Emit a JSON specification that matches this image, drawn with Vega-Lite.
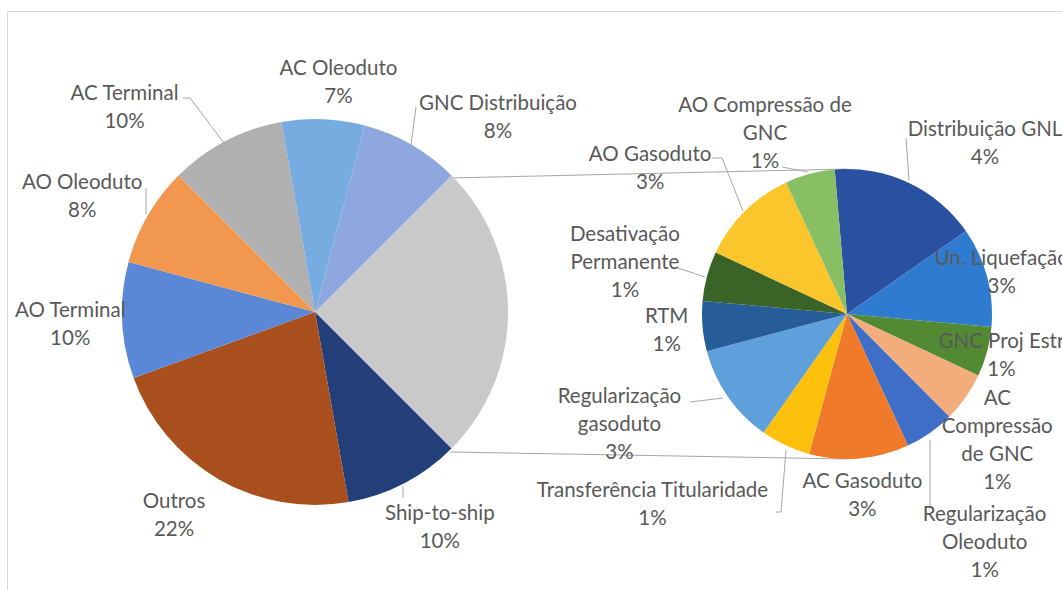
{
  "$schema": "https://vega.github.io/schema/vega-lite/v6.json",
  "width": 1062,
  "height": 590,
  "autosize": {"type": "none"},
  "padding": {"left": 7, "top": 11, "right": 0, "bottom": 0},
  "background": "white",
  "config": {
    "view": {"stroke": "#D9D9D9", "strokeWidth": 1},
    "text": {"font": "Lato", "fontSize": 20.5, "fill": "#595959", "lineHeight": 28, "lineBreak": "\n", "align": "center", "baseline": "middle"}
  },
  "resolve": {"scale": {"theta": "independent", "color": "independent"}},
  "layer": [
    {
      "data": {"values": [{}]},
      "mark": {"type": "rule", "color": "#A6A6A6", "strokeWidth": 1},
      "encoding": {
        "x": {"datum": 450, "type": "quantitative", "scale": {"domain": [7, 1069], "nice": false, "zero": false}, "axis": null},
        "y": {"datum": 178, "type": "quantitative", "scale": {"domain": [11, 601], "nice": false, "zero": false, "reverse": true}, "axis": null},
        "x2": {"datum": 847}, "y2": {"datum": 169}
      }
    },
    {
      "data": {"values": [{}]},
      "mark": {"type": "rule", "color": "#A6A6A6", "strokeWidth": 1},
      "encoding": {
        "x": {"datum": 450, "type": "quantitative"},
        "y": {"datum": 452, "type": "quantitative"},
        "x2": {"datum": 847}, "y2": {"datum": 459}
      }
    },
    {
      "data": {"values": [
        {"cat": "Demais (2º gráfico)", "n": 18, "ord": 1, "label": ""},
        {"cat": "Ship-to-ship", "n": 7, "ord": 2, "label": "Ship-to-ship\n10%"},
        {"cat": "Outros", "n": 16, "ord": 3, "label": "Outros\n22%"},
        {"cat": "AO Terminal", "n": 7, "ord": 4, "label": "AO Terminal\n10%"},
        {"cat": "AO Oleoduto", "n": 6, "ord": 5, "label": "AO Oleoduto\n8%"},
        {"cat": "AC Terminal", "n": 7, "ord": 6, "label": "AC Terminal\n10%"},
        {"cat": "AC Oleoduto", "n": 5, "ord": 7, "label": "AC Oleoduto\n7%"},
        {"cat": "GNC Distribuição", "n": 6, "ord": 8, "label": "GNC Distribuição\n8%"}
      ]},
      "encoding": {
        "theta": {"field": "n", "type": "quantitative", "stack": true, "scale": {"range": [0.7854, 7.0686]}},
        "order": {"field": "ord", "type": "quantitative"},
        "x": {"datum": 315, "type": "quantitative"},
        "y": {"datum": 312, "type": "quantitative"}
      },
      "layer": [
        {
          "mark": {"type": "arc", "outerRadius": 193},
          "encoding": {
            "color": {"field": "cat", "type": "nominal", "legend": null,
              "scale": {
                "domain": ["Demais (2º gráfico)", "Ship-to-ship", "Outros", "AO Terminal", "AO Oleoduto", "AC Terminal", "AC Oleoduto", "GNC Distribuição"],
                "range": ["#C9C9C9", "#223F79", "#A94F1D", "#5A88D7", "#F1974F", "#B0B0B0", "#76ACE0", "#8EA7DE"]
              }}
          }
        },
        {
          "mark": {"type": "text", "radius": 240, "dx": 13, "dy": -3},
          "encoding": {"text": {"condition": {"test": "datum.cat == 'AC Oleoduto'", "field": "label", "type": "nominal"}, "value": ""}}
        },
        {
          "mark": {"type": "text", "radius": 240, "dx": -25, "dy": -9},
          "encoding": {"text": {"condition": {"test": "datum.cat == 'AO Oleoduto'", "field": "label", "type": "nominal"}, "value": ""}}
        },
        {
          "mark": {"type": "text", "radius": 240, "dx": -5, "dy": -11},
          "encoding": {"text": {"condition": {"test": "datum.cat == 'AO Terminal'", "field": "label", "type": "nominal"}, "value": ""}}
        },
        {
          "mark": {"type": "text", "radius": 240, "dx": -21, "dy": -18},
          "encoding": {"text": {"condition": {"test": "datum.cat == 'Outros'", "field": "label", "type": "nominal"}, "value": ""}}
        },
        {
          "mark": {"type": "text", "radius": 240, "dx": 14, "dy": -11},
          "encoding": {"text": {"condition": {"test": "datum.cat == 'Ship-to-ship'", "field": "label", "type": "nominal"}, "value": ""}}
        },
        {
          "mark": {"type": "text", "radius": 250, "dx": 58, "dy": 9},
          "encoding": {"text": {"condition": {"test": "datum.cat == 'GNC Distribuição'", "field": "label", "type": "nominal"}, "value": ""}}
        },
        {
          "mark": {"type": "text", "radius": 250, "dx": -75, "dy": 4},
          "encoding": {"text": {"condition": {"test": "datum.cat == 'AC Terminal'", "field": "label", "type": "nominal"}, "value": ""}}
        }
      ]
    },
    {
      "data": {"values": [
        {"cat": "Distribuição GNL", "n": 3, "ord": 1, "label": "Distribuição GNL\n4%"},
        {"cat": "Un. Liquefação", "n": 2, "ord": 2, "label": "Un. Liquefação\n3%"},
        {"cat": "GNC Proj Estr", "n": 1, "ord": 3, "label": "GNC Proj Estr\n1%"},
        {"cat": "AC Compressão de GNC", "n": 1, "ord": 4, "label": "AC\nCompressão\nde GNC\n1%"},
        {"cat": "Regularização Oleoduto", "n": 1, "ord": 5, "label": "Regularização\nOleoduto\n1%"},
        {"cat": "AC Gasoduto", "n": 2, "ord": 6, "label": "AC Gasoduto\n3%"},
        {"cat": "Transferência Titularidade", "n": 1, "ord": 7, "label": "Transferência Titularidade\n1%"},
        {"cat": "Regularização gasoduto", "n": 2, "ord": 8, "label": "Regularização\ngasoduto\n3%"},
        {"cat": "RTM", "n": 1, "ord": 9, "label": "RTM\n1%"},
        {"cat": "Desativação Permanente", "n": 1, "ord": 10, "label": "Desativação\nPermanente\n1%"},
        {"cat": "AO Gasoduto", "n": 2, "ord": 11, "label": "AO Gasoduto\n3%"},
        {"cat": "AO Compressão de GNC", "n": 1, "ord": 12, "label": "AO Compressão de\nGNC\n1%"}
      ]},
      "encoding": {
        "theta": {"field": "n", "type": "quantitative", "stack": true, "scale": {"range": [-0.085, 6.1982]}},
        "order": {"field": "ord", "type": "quantitative"},
        "x": {"datum": 847, "type": "quantitative"},
        "y": {"datum": 314, "type": "quantitative"}
      },
      "layer": [
        {
          "mark": {"type": "arc", "outerRadius": 145},
          "encoding": {
            "color": {"field": "cat", "type": "nominal", "legend": null,
              "scale": {
                "domain": ["Distribuição GNL", "Un. Liquefação", "GNC Proj Estr", "AC Compressão de GNC", "Regularização Oleoduto", "AC Gasoduto", "Transferência Titularidade", "Regularização gasoduto", "RTM", "Desativação Permanente", "AO Gasoduto", "AO Compressão de GNC"],
                "range": ["#2A50A1", "#2E7BCF", "#528A34", "#F3AC7C", "#3F6EC9", "#EE7A2A", "#FDC00C", "#5E9FDC", "#265C98", "#3A6427", "#FBC52C", "#88BF64"]
              }}
          }
        },
        {
          "mark": {"type": "text", "radius": 160, "dy": -14},
          "encoding": {"text": {"condition": {"test": "indexof(['Un. Liquefação','GNC Proj Estr'], datum.cat) >= 0", "field": "label", "type": "nominal"}, "value": ""}}
        },
        {
          "mark": {"type": "text", "radius": 181, "dy": -12},
          "encoding": {"text": {"condition": {"test": "indexof(['AC Gasoduto','RTM'], datum.cat) >= 0", "field": "label", "type": "nominal"}, "value": ""}}
        },
        {
          "mark": {"type": "text", "radius": 219, "dx": 45, "dy": 14},
          "encoding": {"text": {"condition": {"test": "datum.cat == 'Distribuição GNL'", "field": "label", "type": "nominal"}, "value": ""}}
        },
        {
          "mark": {"type": "text", "radius": 196, "dx": -10, "dy": -28},
          "encoding": {"text": {"condition": {"test": "datum.cat == 'AC Compressão de GNC'", "field": "label", "type": "nominal"}, "value": ""}}
        },
        {
          "mark": {"type": "text", "radius": 267, "dx": -15, "dy": -18},
          "encoding": {"text": {"condition": {"test": "datum.cat == 'Regularização Oleoduto'", "field": "label", "type": "nominal"}, "value": ""}}
        },
        {
          "mark": {"type": "text", "radius": 272, "dx": -79, "dy": -69},
          "encoding": {"text": {"condition": {"test": "datum.cat == 'Transferência Titularidade'", "field": "label", "type": "nominal"}, "value": ""}}
        },
        {
          "mark": {"type": "text", "radius": 253, "dx": -20, "dy": -62},
          "encoding": {"text": {"condition": {"test": "datum.cat == 'Regularização gasoduto'", "field": "label", "type": "nominal"}, "value": ""}}
        },
        {
          "mark": {"type": "text", "radius": 228, "dx": -2, "dy": -19},
          "encoding": {"text": {"condition": {"test": "datum.cat == 'Desativação Permanente'", "field": "label", "type": "nominal"}, "value": ""}}
        },
        {
          "mark": {"type": "text", "radius": 245, "dx": -24, "dy": 15},
          "encoding": {"text": {"condition": {"test": "datum.cat == 'AO Gasoduto'", "field": "label", "type": "nominal"}, "value": ""}}
        },
        {
          "mark": {"type": "text", "radius": 199, "dx": -31, "dy": -16},
          "encoding": {"text": {"condition": {"test": "datum.cat == 'AO Compressão de GNC'", "field": "label", "type": "nominal"}, "value": ""}}
        }
      ]
    },
    {"data": {"values": [{}]}, "mark": {"type": "rule", "color": "#A6A6A6"}, "encoding": {"x": {"datum": 416, "type": "quantitative"}, "y": {"datum": 107, "type": "quantitative"}, "x2": {"datum": 411}, "y2": {"datum": 145}}},
    {"data": {"values": [{}]}, "mark": {"type": "rule", "color": "#A6A6A6"}, "encoding": {"x": {"datum": 183, "type": "quantitative"}, "y": {"datum": 98, "type": "quantitative"}, "x2": {"datum": 190}, "y2": {"datum": 98}}},
    {"data": {"values": [{}]}, "mark": {"type": "rule", "color": "#A6A6A6"}, "encoding": {"x": {"datum": 190, "type": "quantitative"}, "y": {"datum": 98, "type": "quantitative"}, "x2": {"datum": 224}, "y2": {"datum": 143}}},
    {"data": {"values": [{}]}, "mark": {"type": "rule", "color": "#A6A6A6"}, "encoding": {"x": {"datum": 146, "type": "quantitative"}, "y": {"datum": 188, "type": "quantitative"}, "x2": {"datum": 146}, "y2": {"datum": 214}}},
    {"data": {"values": [{}]}, "mark": {"type": "rule", "color": "#A6A6A6"}, "encoding": {"x": {"datum": 403, "type": "quantitative"}, "y": {"datum": 486, "type": "quantitative"}, "x2": {"datum": 403}, "y2": {"datum": 498}}},
    {"data": {"values": [{}]}, "mark": {"type": "rule", "color": "#A6A6A6"}, "encoding": {"x": {"datum": 782, "type": "quantitative"}, "y": {"datum": 167, "type": "quantitative"}, "x2": {"datum": 808}, "y2": {"datum": 172}}},
    {"data": {"values": [{}]}, "mark": {"type": "rule", "color": "#A6A6A6"}, "encoding": {"x": {"datum": 906, "type": "quantitative"}, "y": {"datum": 138, "type": "quantitative"}, "x2": {"datum": 909}, "y2": {"datum": 180}}},
    {"data": {"values": [{}]}, "mark": {"type": "rule", "color": "#A6A6A6"}, "encoding": {"x": {"datum": 712, "type": "quantitative"}, "y": {"datum": 158, "type": "quantitative"}, "x2": {"datum": 722}, "y2": {"datum": 158}}},
    {"data": {"values": [{}]}, "mark": {"type": "rule", "color": "#A6A6A6"}, "encoding": {"x": {"datum": 722, "type": "quantitative"}, "y": {"datum": 158, "type": "quantitative"}, "x2": {"datum": 743}, "y2": {"datum": 211}}},
    {"data": {"values": [{}]}, "mark": {"type": "rule", "color": "#A6A6A6"}, "encoding": {"x": {"datum": 678, "type": "quantitative"}, "y": {"datum": 268, "type": "quantitative"}, "x2": {"datum": 705}, "y2": {"datum": 277}}},
    {"data": {"values": [{}]}, "mark": {"type": "rule", "color": "#A6A6A6"}, "encoding": {"x": {"datum": 690, "type": "quantitative"}, "y": {"datum": 402, "type": "quantitative"}, "x2": {"datum": 723}, "y2": {"datum": 398}}},
    {"data": {"values": [{}]}, "mark": {"type": "rule", "color": "#A6A6A6"}, "encoding": {"x": {"datum": 776, "type": "quantitative"}, "y": {"datum": 512, "type": "quantitative"}, "x2": {"datum": 781}, "y2": {"datum": 512}}},
    {"data": {"values": [{}]}, "mark": {"type": "rule", "color": "#A6A6A6"}, "encoding": {"x": {"datum": 781, "type": "quantitative"}, "y": {"datum": 512, "type": "quantitative"}, "x2": {"datum": 786}, "y2": {"datum": 450}}},
    {"data": {"values": [{}]}, "mark": {"type": "rule", "color": "#A6A6A6"}, "encoding": {"x": {"datum": 930, "type": "quantitative"}, "y": {"datum": 440, "type": "quantitative"}, "x2": {"datum": 930}, "y2": {"datum": 506}}}
  ]
}
